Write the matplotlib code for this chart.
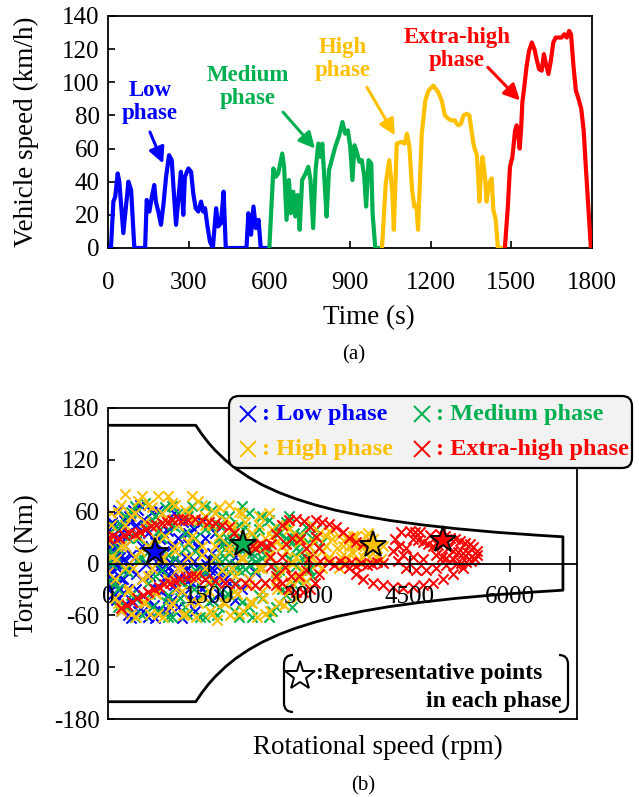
import numpy as np
import matplotlib
matplotlib.use("Agg")
import matplotlib.pyplot as plt
from matplotlib.patches import FancyBboxPatch, PathPatch
from matplotlib.path import Path

plt.rcParams['font.family'] = ['Liberation Serif', 'DejaVu Serif']
plt.rcParams['axes.unicode_minus'] = False

W, H = 639, 797

# Phase colours
C_LOW, C_MED, C_HIGH, C_XH = '#0000FF', '#00B050', '#FFC000', '#FF0000'

# ---------------- (a) WLTC speed trace: (time s, speed km/h) ----------------
low_phase = [(0, 0), (11, 0), (20, 28), (27, 31), (36, 45), (42, 40), (57, 9), (76, 40), (86, 35),
             (98, 0), (138, 0), (144, 29), (154, 22), (162, 30), (172, 38), (178, 28), (187, 22),
             (197, 14), (206, 26), (216, 43), (227, 56), (237, 53), (245, 33), (253, 14), (262, 30),
             (271, 46), (280, 20), (286, 43), (299, 48), (309, 46), (317, 33), (326, 24), (336, 22),
             (346, 28), (354, 22), (361, 24), (369, 14), (379, 4), (390, 0), (402, 24), (410, 13),
             (420, 15), (430, 34), (438, 0), (515, 0), (522, 21), (532, 8), (541, 25), (550, 12),
             (560, 17), (568, 0), (600, 0)]
medium_phase = [(600, 0), (615, 48), (624, 43), (633, 45), (648, 57), (655, 49), (664, 17), (673, 41),
                (680, 21), (689, 34), (697, 19), (705, 32), (713, 11), (722, 41), (735, 45), (745, 49),
                (753, 41), (763, 12), (772, 47), (782, 63), (790, 55), (797, 63), (805, 41), (813, 19),
                (822, 47), (832, 53), (845, 61), (860, 68), (872, 76), (882, 69), (892, 71), (901, 61),
                (909, 41), (917, 62), (925, 58), (935, 52), (944, 53), (953, 43), (960, 25), (969, 53),
                (979, 51), (984, 21), (994, 0), (1019, 0)]
high_phase = [(1019, 0), (1033, 39), (1046, 53), (1058, 33), (1063, 11), (1074, 63), (1091, 64),
              (1103, 63), (1112, 69), (1121, 61), (1131, 35), (1139, 25), (1147, 26), (1153, 11),
              (1167, 69), (1180, 89), (1192, 95), (1210, 98), (1228, 94), (1241, 89), (1253, 80),
              (1266, 78), (1278, 77), (1290, 77), (1297, 75), (1303, 74), (1313, 75), (1322, 80),
              (1334, 81), (1344, 80), (1350, 73), (1359, 63), (1365, 59), (1371, 57), (1377, 43),
              (1381, 28), (1387, 45), (1393, 55), (1402, 43), (1408, 28), (1417, 39), (1427, 42),
              (1433, 23), (1442, 17), (1450, 0), (1476, 0)]
xhigh_phase = [(1476, 0), (1487, 25), (1495, 49), (1504, 55), (1514, 71), (1520, 74), (1526, 68),
               (1531, 60), (1536, 71), (1541, 88), (1548, 97), (1557, 110), (1566, 119), (1576, 124),
               (1586, 120), (1594, 114), (1603, 108), (1613, 107), (1621, 117), (1629, 111),
               (1638, 105), (1647, 113), (1656, 124), (1665, 127), (1675, 127), (1687, 127),
               (1697, 129), (1706, 127), (1715, 131), (1722, 129), (1731, 110), (1740, 95),
               (1750, 90), (1760, 84), (1769, 71), (1777, 49), (1787, 23), (1796, 0), (1800, 0)]

# ---------------- (b) motor operating points (rpm, torque Nm) ----------------
low_pts = [(0, -30), (0, -15), (0, 0), (0, 15), (0, 30), (40, -22), (40, 8), (40, 38), (80, -35),
           (80, -8), (80, 22), (80, 45), (120, -25), (120, 0), (120, 30), (160, -40), (160, 12),
           (160, 40), (200, -18), (200, 25), (240, -48), (240, 5), (240, 50), (280, -30), (280, 35),
           (320, 55), (380, 62), (420, 45), (480, 68), (520, 50), (600, 35), (650, 60), (720, 44),
           (780, 28), (850, 52), (900, 38), (980, 58), (1050, 30), (1120, 48), (1200, 22), (1280, 40),
           (1350, 18), (1450, 30), (1550, 12), (1700, 25), (1900, 8), (2100, 15),
           (300, -60), (380, -45), (450, -55), (520, -38), (600, -62), (680, -48), (750, -30),
           (820, -55), (900, -40), (980, -25), (1050, -50), (1130, -35), (1200, -20), (1300, -42),
           (1400, -28), (1500, -15), (1650, -35), (1800, -22), (2000, -30), (2200, -10),
           (800, -5), (860, -15), (920, 2), (980, -10), (1040, -18), (1100, 0), (1160, -8),
           (1220, -15), (1280, 3), (1340, -5), (1400, -12), (1460, 0), (1520, -8), (1580, -18),
           (1640, -3), (1700, -10), (1000, 5), (1250, -22), (1500, 5),
           (350, 10), (420, -12), (500, 20), (560, 0), (620, -15), (700, 25), (760, 5), (840, 15)]
low_rows = {62: [150, 450, 750], 48: [60, 330, 560, 1000, 1400],
            35: [20, 200, 420, 820, 1200, 1600], 20: [10, 100, 260, 600, 950, 1350, 1800],
            8: [30, 180, 400, 650, 1150, 1600, 2000],
            -5: [0, 140, 320, 750, 900, 1050, 1200, 1350, 1550, 1850, 2300],
            -18: [60, 220, 500, 850, 1150, 1450, 1750, 2100], -30: [30, 180, 420, 700, 1000, 1400],
            -42: [120, 350, 600, 950, 1250, 1550, 1900], -55: [200, 520, 900, 1300],
            -63: [350, 700, 1100]}

medium_pts = [(1650, 5), (1700, 20), (1750, -5), (1800, 12), (1850, 28), (1900, 0), (1950, 18),
              (2000, 8), (2050, -6), (2100, 25), (2150, 12), (2200, 2), (2250, 20), (1780, 30),
              (1880, -8), (2000, 30), (2120, -2), (2700, 5), (2750, 25), (2800, -3), (2850, 15),
              (2900, 32), (2950, 8), (3000, 20), (2780, 35), (2980, -5),
              (200, 45), (350, 60), (450, 30), (550, 70), (650, 50), (750, 38), (850, 65), (950, 45),
              (1050, 58), (1150, 35), (1250, 66), (1350, 48), (1450, 40), (1550, 62), (1650, 45),
              (1800, 55), (1950, 45), (2100, 58), (2250, 40), (2400, 50), (2550, 35), (2650, 48),
              (3100, 40), (3200, 25),
              (150, -30), (280, -50), (400, -40), (500, -60), (620, -35), (740, -55), (860, -45),
              (960, -62), (1080, -40), (1180, -58), (1280, -30), (1380, -62), (1500, -45),
              (1620, -60), (1750, -38), (1880, -55), (2000, -45), (2150, -62), (2300, -40),
              (2450, -55), (2600, -30), (2750, -50), (2900, -25), (3050, -15),
              (100, 10), (300, -10), (450, 5), (600, 20), (700, -15), (900, 10), (1100, -20),
              (1300, 15), (1450, -10), (1600, -25), (2350, 10), (2500, -10), (2600, 20),
              (0, -20), (0, 15), (60, 0)]
medium_rows = {66: [400, 950, 1450, 2000], 55: [250, 700, 1200, 1700, 2300, 2700],
               42: [100, 550, 1000, 1550, 2050, 2500, 2950],
               30: [300, 800, 1300, 1650, 1950, 2200, 2650, 3050],
               18: [150, 650, 1150, 1750, 1900, 2050, 2400, 2800, 3150],
               6: [0, 500, 1000, 1600, 1750, 2150, 2300, 2700, 2900],
               -8: [250, 800, 1300, 1700, 1950, 2200, 2550, 3000],
               -22: [100, 600, 1100, 1500, 1900, 2350, 2750],
               -36: [350, 900, 1400, 1800, 2250, 2650], -50: [150, 650, 1150, 1650, 2100, 2500],
               -62: [400, 900, 1450, 1950, 2400]}

high_pts = [(3000, 10), (3080, 25), (3150, 35), (3200, 15), (3280, 5), (3350, 28), (3420, 18),
            (3480, 8), (3550, 30), (3600, 20), (3660, 12), (3720, 3), (3780, 22), (3840, 14),
            (3900, 8), (3960, 28), (4020, 18), (4080, 5), (3300, 38), (3500, 0), (3700, 32),
            (3120, 0), (3880, 35),
            (2400, 10), (2500, 25), (2550, -5), (2650, 15), (2750, 0), (2850, 25), (2900, -8),
            (2450, 40), (2600, 45),
            (50, 45), (150, 60), (250, 80), (350, 55), (450, 72), (550, 48), (650, 65), (750, 78),
            (850, 52), (950, 70), (1050, 45), (1150, 62), (1250, 50), (1350, 72), (1450, 55),
            (1550, 45), (1650, 65), (1750, 50), (1850, 40), (1950, 60), (2050, 48), (2150, 35),
            (2250, 55), (2350, 30), (2700, 40),
            (100, -40), (200, -55), (320, -30), (420, -62), (520, -45), (620, -58), (720, -35),
            (820, -62), (920, -50), (1020, -30), (1120, -60), (1220, -45), (1320, -62), (1420, -38),
            (1520, -55), (1620, -65), (1720, -45), (1820, -60), (1920, -35), (2020, -55),
            (2120, -45), (2220, -62), (2320, -40), (2420, -55), (2520, -30), (2620, -48),
            (2720, -20), (2820, -40), (2950, -20),
            (0, 25), (0, -10), (120, 5), (250, 20), (380, -5), (480, 15), (600, -15), (700, 30),
            (800, 5), (900, -20), (1000, 15), (1100, -5), (1200, 25), (1300, -12), (1400, 10),
            (1500, -20), (1600, 20), (1700, -8), (1800, 15), (1900, -15), (2000, 5), (2100, -25),
            (2200, 20), (2300, -5)]
high_rows = {78: [500, 900, 1250], 68: [200, 600, 1000, 1400, 1800],
             58: [50, 400, 800, 1200, 1600, 2000, 2400],
             45: [250, 650, 1050, 1450, 1850, 2250, 2650, 3050],
             32: [0, 450, 850, 1250, 1650, 2050, 2450, 2850, 3250, 3450, 3650, 3850],
             20: [200, 600, 1000, 1400, 1800, 2200, 2600, 3000, 3250, 3500, 3700, 3900, 4100],
             8: [50, 400, 800, 1200, 1600, 2000, 2400, 2800, 3050, 3300, 3550, 3800, 4000],
             -5: [250, 650, 1050, 1450, 1850, 2250, 2650, 3200, 3450],
             -18: [100, 500, 900, 1300, 1700, 2100, 2500, 2850],
             -32: [300, 700, 1100, 1500, 1900, 2300, 2700],
             -46: [150, 550, 950, 1350, 1750, 2150, 2550],
             -58: [350, 750, 1150, 1550, 1950, 2350]}

xhigh_pts = [(0, 30), (80, 32), (160, 30), (240, 33), (320, 35), (400, 34), (480, 37), (560, 40),
             (640, 43), (720, 45), (800, 47), (880, 48), (960, 50), (1040, 51), (1120, 52),
             (1200, 50), (1300, 52), (1400, 50), (1500, 48), (1600, 47), (1700, 45), (1800, 42),
             (1880, 35), (1950, 28), (2050, 22), (2150, 20), (2200, 18), (2280, 22), (2360, 20),
             (200, -52), (280, -48), (360, -45), (440, -40), (520, -36), (600, -33), (680, -30),
             (760, -27), (840, -24), (920, -22), (1000, -20), (1080, -18), (1160, -16), (1240, -15),
             (1320, -14), (1450, -18), (1600, -20), (1750, -22), (1900, -24), (2050, -22),
             (2200, -25), (2350, -22), (2500, -25),
             (2420, 8), (2440, 22), (2500, 34), (2590, 44), (2700, 50), (2810, 52), (2920, 49),
             (3020, 42), (3100, 31), (3150, 18), (3170, 3), (3150, -12), (3090, -23), (3010, -30),
             (2910, -33), (2800, -33), (2690, -29), (2590, -23), (2500, -14), (2440, -3),
             (2600, 8), (2650, 22), (2750, 30), (2870, 28), (2960, 18), (2990, 5), (2950, -8),
             (2850, -15), (2730, -14), (2640, -4),
             (3100, 50), (3200, 48), (3300, 46), (3400, 42), (3500, 36), (3600, 30), (3700, 25),
             (3800, 22),
             (3300, 2), (3380, -2), (3460, 3), (3540, -1), (3620, 2), (3700, -3), (3780, 1),
             (3860, -2), (3940, 0), (4020, 2), (4100, 1),
             (4250, 15), (4280, 28), (4380, 36), (4500, 38), (4650, 36), (4800, 33), (4950, 34),
             (5100, 30), (5250, 26), (5400, 22), (5500, 15), (5480, 5), (5350, 2), (5200, 0),
             (5050, -2), (4900, -5), (4750, -8), (4600, -8), (4450, -5), (4330, 3),
             (4450, 18), (4550, 28), (4700, 25), (4850, 20), (5000, 22), (5150, 15), (5300, 12),
             (4550, 8), (4700, 5), (4900, 10), (5050, 6), (4620, 27), (4780, 22), (4930, 21),
             (5080, 18), (5230, 13), (5380, 12), (4980, 8), (5150, 5), (4400, 10), (4350, 20),
             (5450, 19), (5500, 10), (5275, 1), (4575, 37), (5025, 32), (5175, 28), (5325, 24),
             (3600, -5), (3700, -12), (3800, -18), (3950, -22), (4100, -25), (4250, -27),
             (4400, -28), (4550, -27), (4700, -25), (4850, -22), (5000, -18), (5150, -12),
             (5300, -5), (5420, 3)]

# Representative point of each phase (rpm, torque)
rep_points = [(700, 13), (2015, 22), (3955, 21), (5000, 27)]

# Motor torque limit (rpm, Nm)
limit_rpm = [0, 1310, 1400, 1500, 1600, 1750, 1900, 2100, 2300, 2550, 2800, 3100, 3400, 3800,
             4200, 4700, 5200, 5800, 6400, 6790]
limit_torque = [160, 160, 149.7, 139.7, 131.0, 119.8, 110.3, 99.8, 91.1, 82.2, 74.9, 67.6, 61.6,
                55.2, 49.9, 44.6, 40.3, 36.1, 32.8, 30.9]

phase_names = ['Low phase', 'Medium phase', 'High phase', 'Extra-high phase']
phase_colors = [C_LOW, C_MED, C_HIGH, C_XH]
time_ticks = [0, 300, 600, 900, 1200, 1500, 1800]
speed_ticks = [0, 20, 40, 60, 80, 100, 120, 140]
rpm_ticks = [0, 1500, 3000, 4500, 6000]
torque_ticks = [-180, -120, -60, 0, 60, 120, 180]


def with_rows(pts, rows):
    out = list(pts)
    for tq, rpms in rows.items():
        out.extend((r, tq) for r in rpms)
    return np.array(out, dtype=float)


def fig_rect(left, top, right, bottom):
    return [left / W, 1 - bottom / H, (right - left) / W, (bottom - top) / H]


def fpos(x, y):
    return x / W, 1 - y / H


fig = plt.figure(figsize=(W / 100, H / 100), dpi=100)
TICK_FS = 18
LABEL_FS = 19.5

# ---------------- (a) ----------------
ax1 = fig.add_axes(fig_rect(108, 16, 592, 248))
for data, col in zip([low_phase, medium_phase, high_phase, xhigh_phase], phase_colors):
    t, v = np.array(data, dtype=float).T
    ax1.plot(t, v, color=col, lw=3.0, solid_joinstyle='round', zorder=3)
ax1.set_xlim(0, 1800)
ax1.set_ylim(0, 140)
ax1.set_xticks(time_ticks)
ax1.set_yticks(speed_ticks)
ax1.tick_params(direction='in', length=5, width=1.2, labelsize=TICK_FS, pad=6)
ax1.tick_params(axis='x', pad=17)
for s in ax1.spines.values():
    s.set_linewidth(1.3)

ann = dict(fontsize=16.5, fontweight='bold', ha='center', va='center', linespacing=1.15)
labels_a = [('Low\nphase', (156, 88), (156, 70), (205, 51), C_LOW),
            ('Medium\nphase', (521, 97), (651, 82), (770, 60), C_MED),
            ('High\nphase', (874, 114), (963, 97), (1067, 68), C_HIGH),
            ('Extra-high\nphase', (1298, 120), (1413, 109), (1532, 89), C_XH)]
for txt, tpos, a0, a1, col in labels_a:
    ax1.text(*tpos, txt, color=col, **ann, zorder=5)
    ax1.annotate('', xy=a1, xytext=a0,
                 arrowprops=dict(arrowstyle='-|>', color=col, lw=2.2, mutation_scale=24,
                                 shrinkA=0, shrinkB=0), zorder=5)

fig.text(*fpos(26, 132), 'Vehicle speed (km/h)', rotation=90, ha='center', va='center',
         fontsize=LABEL_FS)
fig.text(*fpos(369, 318), 'Time (s)', ha='center', va='center', fontsize=LABEL_FS)
fig.text(*fpos(354, 355), '(a)', ha='center', va='center', fontsize=15)

# ---------------- (b) ----------------
ax2 = fig.add_axes(fig_rect(108, 408, 577, 719))
scatter_sets = [with_rows(low_pts, low_rows), with_rows(medium_pts, medium_rows),
                with_rows(high_pts, high_rows), with_rows(xhigh_pts, {})]
for pts, col in zip(scatter_sets, phase_colors):
    ax2.scatter(pts[:, 0], pts[:, 1], marker='x', s=54, linewidths=1.45, color=col, zorder=1)
for (r, tq), col in zip(rep_points, phase_colors):
    ax2.plot(r, tq, marker='*', ms=20, mfc=col, mec='black', mew=1.4, zorder=4)

lr = np.array(limit_rpm, dtype=float)
lt = np.array(limit_torque, dtype=float)
ax2.plot(np.r_[lr, lr[::-1]], np.r_[lt, -lt[::-1]], color='black', lw=2.0, zorder=2)

ax2.set_xlim(0, 7000)
ax2.set_ylim(-180, 180)
ax2.set_xticks([])
ax2.set_yticks(torque_ticks)
ax2.tick_params(axis='y', direction='in', length=5, width=1.2, labelsize=TICK_FS, pad=6)
for s in ax2.spines.values():
    s.set_linewidth(1.3)

zero_axis = ax2.secondary_xaxis(0.5)
zero_axis.set_alignment('bottom')
zero_axis.set_zorder(3)
zero_axis.set_xticks(rpm_ticks)
zero_axis.tick_params(direction='inout', length=12, width=1.2, labelsize=TICK_FS, pad=10)
zero_axis.spines['bottom'].set_linewidth(1.3)

fig.text(*fpos(26, 565), 'Torque (Nm)', rotation=90, ha='center', va='center', fontsize=LABEL_FS)
fig.text(*fpos(378, 747), 'Rotational speed (rpm)', ha='center', va='center', fontsize=LABEL_FS)
fig.text(*fpos(363, 786), '(b)', ha='center', va='center', fontsize=15)

# ---------------- legends (pixel overlay) ----------------
ov = fig.add_axes([0, 0, 1, 1], zorder=10)
ov.set_xlim(0, W)
ov.set_ylim(H, 0)
ov.axis('off')

box = FancyBboxPatch((229, 396), 403, 72, boxstyle='round,pad=0,rounding_size=10',
                     fc='#F2F2F2', ec='black', lw=1.6)
ov.add_patch(box)
legend_slots = [(248, 414), (422, 414), (248, 449), (422, 449)]
for (x, y), name, col in zip(legend_slots, phase_names, phase_colors):
    ov.plot(x, y, marker='x', ms=12, mew=1.4, color=col)
    ov.text(x + 14, y, ': ' + name, color=col, fontsize=17.5, fontweight='bold',
            ha='left', va='center')

# bracketed note about the star markers
bx0, bx1, by0, by1, rr = 284, 568, 655, 712, 9
left_br = Path([(bx0 + rr, by0), (bx0, by0), (bx0, by0 + rr), (bx0, by1 - rr), (bx0, by1),
                (bx0 + rr, by1)],
               [Path.MOVETO, Path.CURVE3, Path.CURVE3, Path.LINETO, Path.CURVE3, Path.CURVE3])
right_br = Path([(bx1 - rr, by0), (bx1, by0), (bx1, by0 + rr), (bx1, by1 - rr), (bx1, by1),
                 (bx1 - rr, by1)],
                [Path.MOVETO, Path.CURVE3, Path.CURVE3, Path.LINETO, Path.CURVE3, Path.CURVE3])
for p in (left_br, right_br):
    ov.add_patch(PathPatch(p, fc='none', ec='black', lw=1.6))
ov.plot(300, 676, marker='*', ms=22, mfc='white', mec='black', mew=1.4)
ov.text(316, 674, ':Representative points', fontsize=17, fontweight='bold', ha='left',
        va='center')
ov.text(562, 702, 'in each phase', fontsize=17, fontweight='bold', ha='right', va='center')

fig.savefig('out.png', dpi=100)
